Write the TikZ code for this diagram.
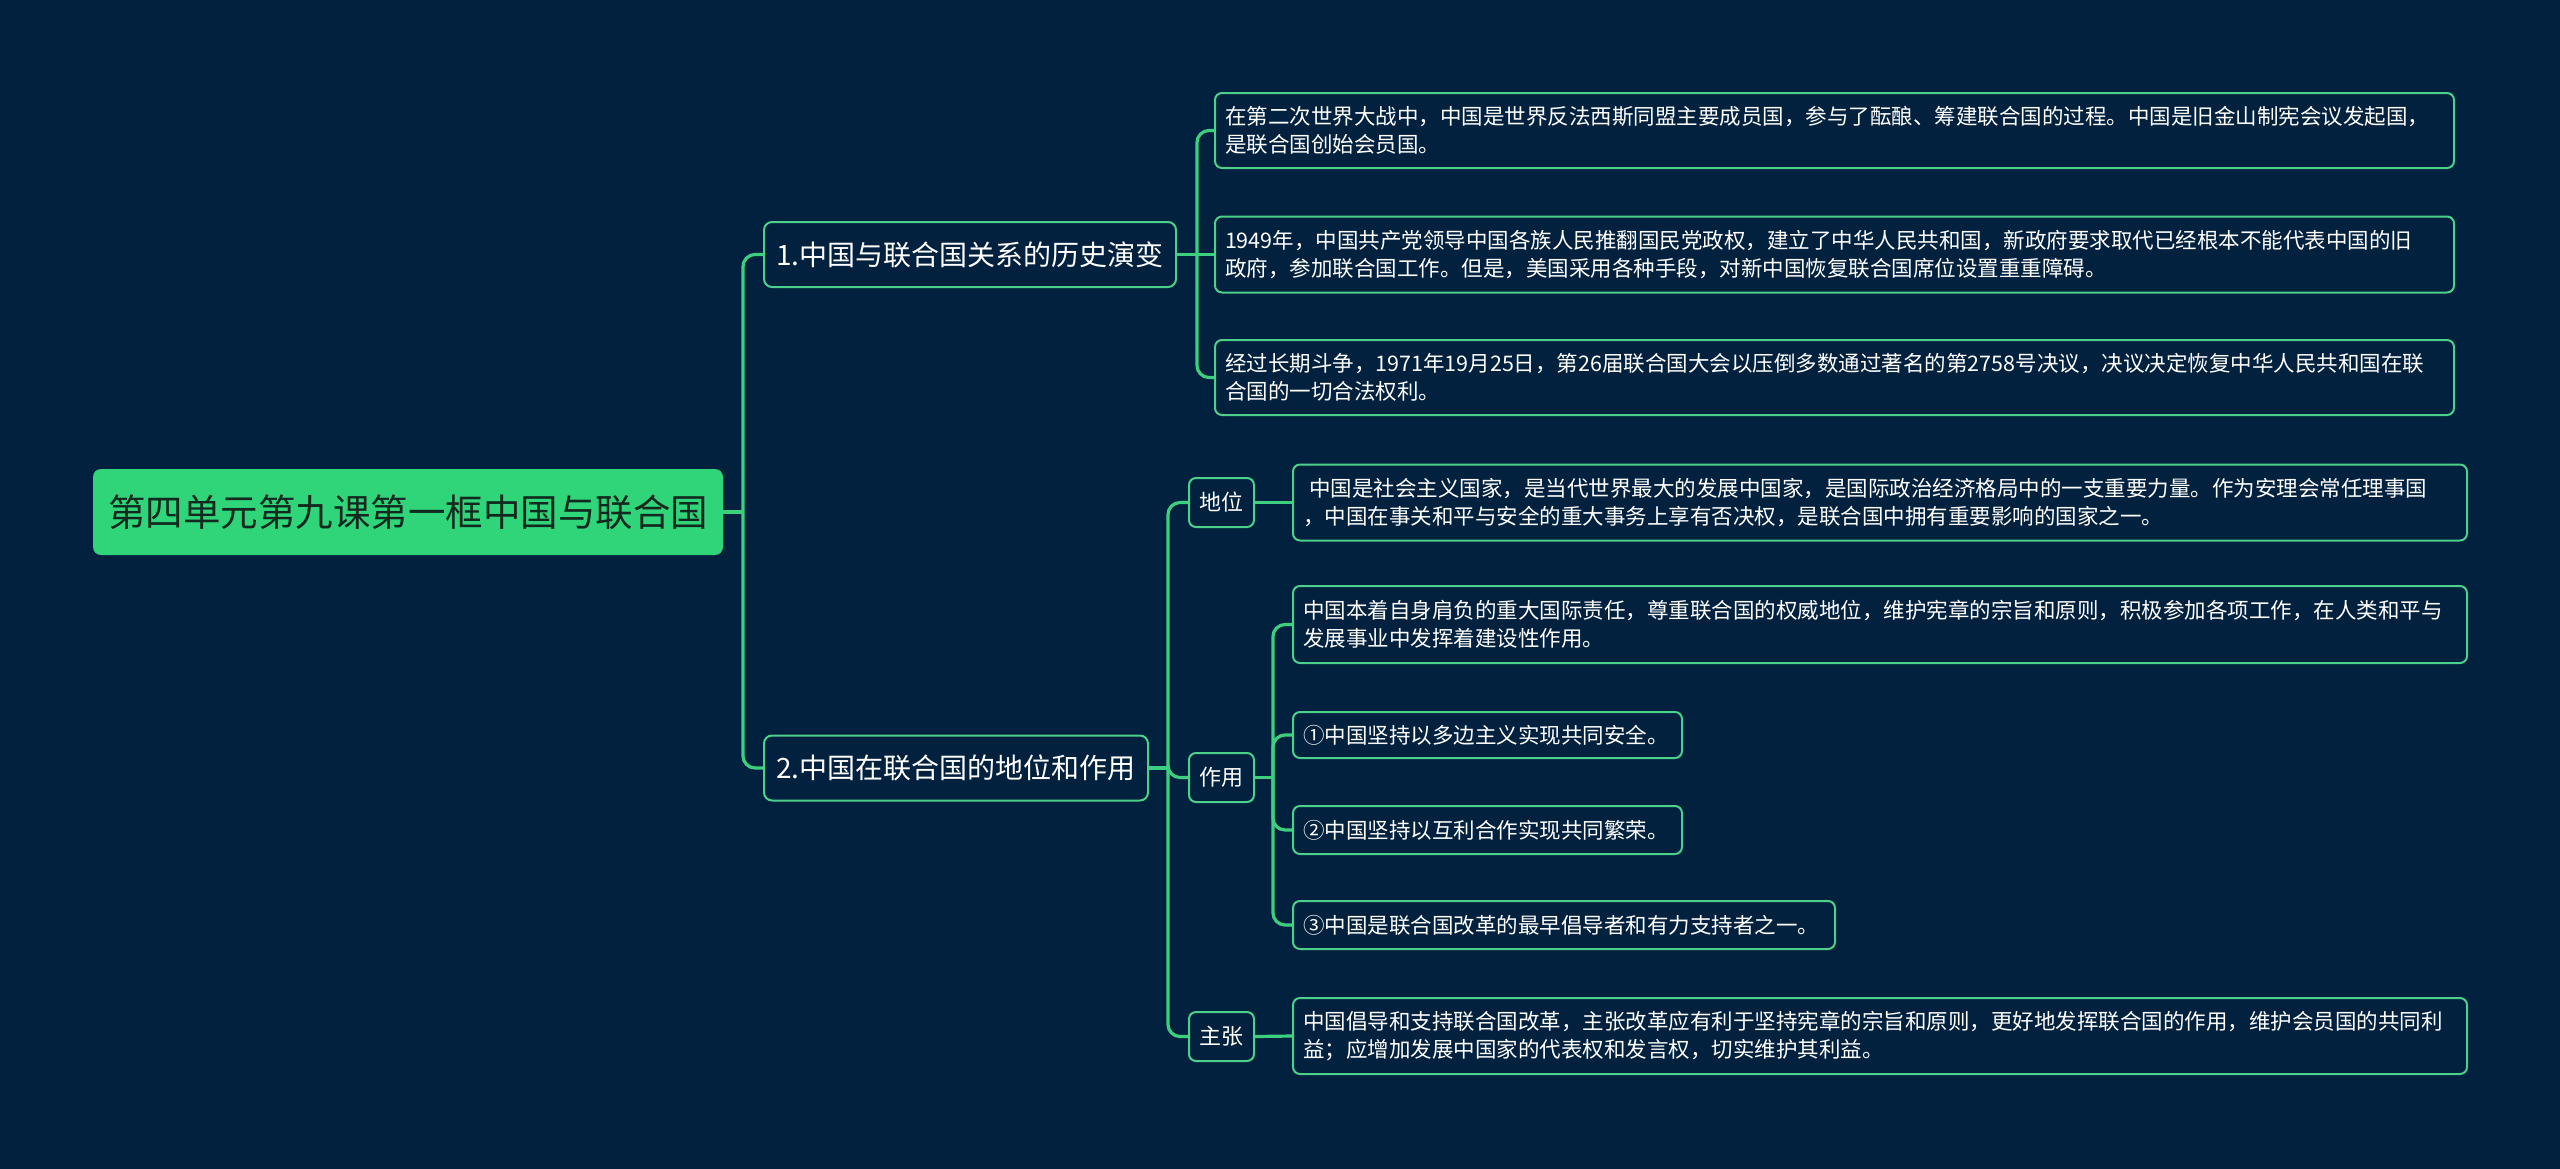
\documentclass[tikz,border=0pt]{standalone}
\usepackage{fontspec}
\setmainfont{Noto Sans CJK SC}
\definecolor{bgc}{HTML}{02213E}
\definecolor{rootc}{HTML}{30D57A}
\definecolor{roottext}{HTML}{12291F}
\definecolor{linec}{HTML}{3CCF7E}
\definecolor{bordc}{HTML}{4DD08A}
\begin{document}
\begin{tikzpicture}[x=1pt,y=-1pt,
  rootbox/.style={fill=rootc, rounded corners=8pt, minimum width=630pt, minimum height=86pt, inner sep=0pt, text=roottext, font=\fontsize{37.5pt}{42pt}\selectfont},
  brbox/.style={draw=bordc, line width=2pt, fill=bgc, rounded corners=8pt, minimum height=65pt, inner sep=0pt, text=white, font=\fontsize{28pt}{33pt}\selectfont},
  secbox/.style={draw=bordc, line width=2pt, fill=bgc, rounded corners=7pt, minimum width=65pt, minimum height=49pt, inner sep=0pt, text=white, font=\fontsize{22pt}{26pt}\selectfont},
  leafbox/.style={draw=bordc, line width=2pt, fill=bgc, rounded corners=7pt, inner xsep=10pt, inner ysep=0pt, text=white, align=left, font=\fontsize{21.5pt}{28pt}\selectfont},
  conn/.style={draw=linec, line width=3.2pt},
  rconn/.style={draw=linec, line width=3.2pt, rounded corners=12pt}
]
\useasboundingbox (0,0) rectangle (2560,1168);
\fill[bgc] (-2,-2) rectangle (2562,1170);

% nodes
\node[rootbox] (root) at (408,512) {第四单元第九课第一框中国与联合国};
\node[brbox, minimum width=412pt] (b1) at (970,254.5) {1.中国与联合国关系的历史演变};
\node[brbox, minimum width=384pt] (b2) at (956,768) {2.中国在联合国的地位和作用};

\node[leafbox, text width=1219pt, minimum height=75pt] (L1) at (1834.5,130.5) {在第二次世界大战中，中国是世界反法西斯同盟主要成员国，参与了酝酿、筹建联合国的过程。中国是旧金山制宪会议发起国，\\是联合国创始会员国。};
\node[leafbox, text width=1219pt, minimum height=76pt] (L2) at (1834.5,254.5) {1949年，中国共产党领导中国各族人民推翻国民党政权，建立了中华人民共和国，新政府要求取代已经根本不能代表中国的旧\\政府，参加联合国工作。但是，美国采用各种手段，对新中国恢复联合国席位设置重重障碍。};
\node[leafbox, text width=1219pt, minimum height=75pt] (L3) at (1834.5,377.5) {经过长期斗争，1971年19月25日，第26届联合国大会以压倒多数通过著名的第2758号决议，决议决定恢复中华人民共和国在联\\合国的一切合法权利。};

\node[secbox] (s1) at (1221.5,502.5) {地位};
\node[secbox] (s2) at (1221.5,777.5) {作用};
\node[secbox] (s3) at (1221.5,1036.5) {主张};

\node[leafbox, text width=1154pt, minimum height=76pt] (D) at (1880,502.5) {\hspace*{0.3em}中国是社会主义国家，是当代世界最大的发展中国家，是国际政治经济格局中的一支重要力量。作为安理会常任理事国\\，中国在事关和平与安全的重大事务上享有否决权，是联合国中拥有重要影响的国家之一。};
\node[leafbox, text width=1154pt, minimum height=77pt] (Z1) at (1880,624.5) {中国本着自身肩负的重大国际责任，尊重联合国的权威地位，维护宪章的宗旨和原则，积极参加各项工作，在人类和平与\\发展事业中发挥着建设性作用。};
\node[leafbox, text width=369pt, minimum height=46pt] (Z2) at (1487.5,735) {①中国坚持以多边主义实现共同安全。};
\node[leafbox, text width=369pt, minimum height=48pt] (Z3) at (1487.5,830) {②中国坚持以互利合作实现共同繁荣。};
\node[leafbox, text width=522pt, minimum height=48pt] (Z4) at (1564,925) {③中国是联合国改革的最早倡导者和有力支持者之一。};
\node[leafbox, text width=1154pt, minimum height=76pt] (J) at (1880,1036) {中国倡导和支持联合国改革，主张改革应有利于坚持宪章的宗旨和原则，更好地发挥联合国的作用，维护会员国的共同利\\益；应增加发展中国家的代表权和发言权，切实维护其利益。};

% junction coordinates
\coordinate (t0) at (743,512);
\coordinate (t1) at (1197,254.5);
\coordinate (t2) at (1168,768);
\coordinate (t3) at (1273,777.5);

% connectors
\draw[conn] (root.east) -- (t0);
\draw[rconn] (t0) |- (b1.west);
\draw[rconn] (t0) |- (b2.west);

\draw[conn] (b1.east) -- (t1);
\draw[rconn] (t1) |- (L1.west);
\draw[conn] (t1) -- (L2.west);
\draw[rconn] (t1) |- (L3.west);

\draw[conn] (b2.east) -- (t2);
\draw[rconn] (t2) |- (s1.west);
\draw[rconn] (t2) |- (s2.west);
\draw[rconn] (t2) |- (s3.west);

\draw[conn] (s1.east) -- (D.west);
\draw[conn] (s2.east) -- (t3);
\draw[rconn] (t3) |- (Z1.west);
\draw[rconn] (t3) |- (Z2.west);
\draw[rconn] (t3) |- (Z3.west);
\draw[rconn] (t3) |- (Z4.west);
\draw[conn] (s3.east) -- (J.west);
\end{tikzpicture}
\end{document}
